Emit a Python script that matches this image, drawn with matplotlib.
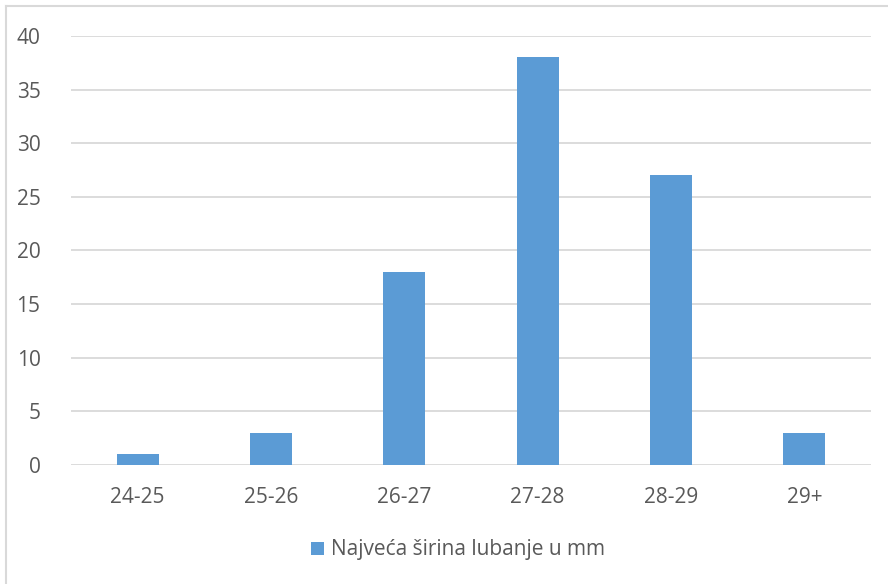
import matplotlib
matplotlib.use("Agg")
import matplotlib.pyplot as plt
from matplotlib.lines import Line2D
from matplotlib.patches import Patch

categories = ["24-25", "25-26", "26-27", "27-28", "28-29", "29+"]
counts = [1, 3, 18, 38, 27, 3]
series_name = "Najveća širina lubanje u mm"

plt.rcParams['font.family'] = ['Open Sans', 'DejaVu Sans']
bar_color = "#5B9BD5"
text_color = "#595959"
grid_color = "#D9D9D9"

fig = plt.figure(figsize=(8.88, 5.84), dpi=100)
W, H = 888, 584
ax = fig.add_axes([71 / W, 1 - 465 / H, 800 / W, 429 / H])

x = range(len(categories))
ax.bar(x, counts, width=0.315, color=bar_color, zorder=3, label=series_name)
ax.set_xlim(-0.5, len(categories) - 0.5)
ax.set_ylim(0, 40)
ax.set_yticks(range(0, 41, 5))
ax.set_xticks(list(x))
ax.set_xticklabels(categories)
ax.yaxis.grid(True, color=grid_color, linewidth=1.3, zorder=0)
for s in ax.spines.values():
    s.set_visible(False)
ax.tick_params(axis='both', length=0, labelsize=15, colors=text_color)
ax.tick_params(axis='y', pad=22)
ax.tick_params(axis='x', pad=16)

# chart border (left and top edges visible)
fig.add_artist(Line2D([6 / W, 6 / W], [0, 1 - 6 / H], color=grid_color, lw=1.5))
fig.add_artist(Line2D([6 / W, 1], [1 - 6 / H, 1 - 6 / H], color=grid_color, lw=1.5))

handle = Patch(facecolor=bar_color, edgecolor='none')
fig.legend([handle], [series_name], loc='center', bbox_to_anchor=(458 / W, 1 - 550 / H),
           frameon=False, fontsize=15, labelcolor=text_color, handlelength=0.6,
           handleheight=0.6, handletextpad=0.35)

fig.savefig("out.png", dpi=100)
